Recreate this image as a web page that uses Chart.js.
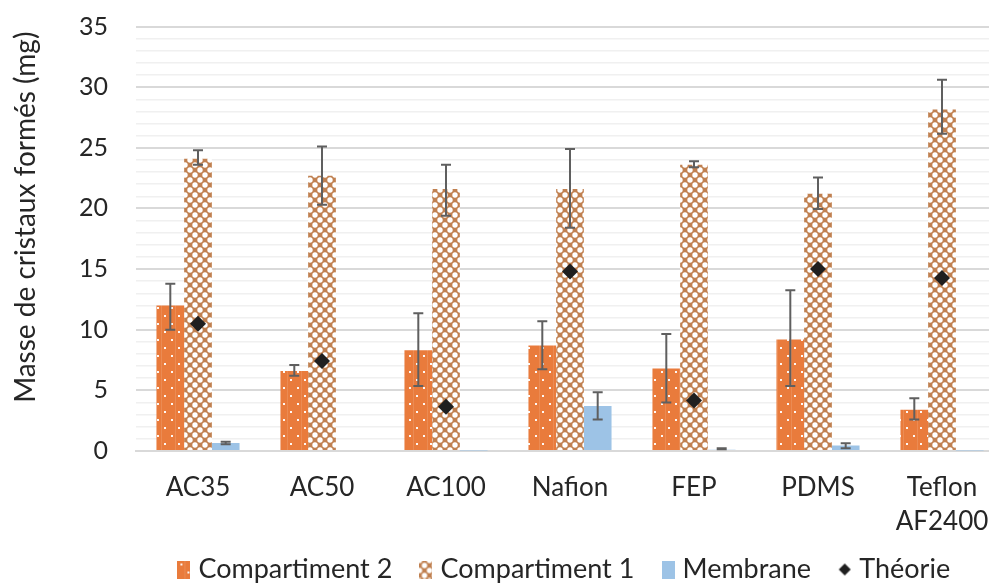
<!DOCTYPE html>
<html>
<head>
<meta charset="utf-8">
<script src="https://cdn.jsdelivr.net/npm/chart.js@4.4.1/dist/chart.umd.min.js"></script>
<style>
html,body{margin:0;padding:0;background:#fff;overflow:hidden}
#wrap{width:989px;height:585px;overflow:hidden;position:relative;background:#fff}
#c{position:absolute;left:0;top:0}
</style>
</head>
<body>
<div id="wrap"><canvas id="c" width="1012" height="585"></canvas></div>
<script>
// ---- data ----
const categories = ['AC35', 'AC50', 'AC100', 'Nafion', 'FEP', 'PDMS', ['Teflon', 'AF2400']];
const comp2      = [12.0, 6.6, 8.3, 8.7, 6.8, 9.2, 3.4];
const comp2Low   = [10.0, 6.2, 5.35, 6.75, 4.0, 5.35, 2.6];
const comp2High  = [13.8, 7.1, 11.35, 10.7, 9.65, 13.25, 4.35];
const comp1      = [24.1, 22.7, 21.6, 21.6, 23.6, 21.2, 28.15];
const comp1Low   = [23.6, 20.3, 19.4, 18.4, 23.4, 19.95, 26.15];
const comp1High  = [24.8, 25.1, 23.6, 24.9, 23.9, 22.55, 30.6];
const membrane     = [0.65, 0, 0.05, 3.7, 0.1, 0.45, 0.05];
const membraneLow  = [0.55, null, null, 2.6, 0.15, 0.22, null];
const membraneHigh = [0.77, null, null, 4.85, 0.22, 0.63, null];
const theory     = [10.5, 7.43, 3.65, 14.8, 4.17, 15.0, 14.26];
const yTicks     = [0, 5, 10, 15, 20, 25, 30, 35];
const seriesNames = ['Compartiment 2', 'Compartiment 1', 'Membrane', 'Théorie'];
const yTitle = 'Masse de cristaux formés (mg)';

// ---- patterns ----
const ORANGE = '#E97B3C', BROWN = '#C08050', BLUE = '#9DC3E6', DARK = '#1f1f1f';
function orangeTile() {
  const c = document.createElement('canvas'); c.width = 14; c.height = 16;
  const g = c.getContext('2d');
  g.fillStyle = ORANGE; g.fillRect(0, 0, 14, 16);
  g.fillStyle = 'rgba(255,255,255,0.95)';
  g.fillRect(3, 3, 2, 2); g.fillRect(10, 11, 2, 2);
  g.fillStyle = 'rgba(255,255,255,0.12)';
  g.fillRect(7, 0, 1, 16);
  return c;
}
function brownTile() {
  const c = document.createElement('canvas'); c.width = 10; c.height = 10;
  const g = c.getContext('2d');
  g.fillStyle = BROWN; g.fillRect(0, 0, 10, 10);
  g.fillStyle = '#ffffff';
  [[5, 5], [0, 0], [10, 0], [0, 10], [10, 10]].forEach(([x, y]) => {
    g.beginPath(); g.arc(x, y, 2.7, 0, Math.PI * 2); g.fill();
  });
  return c;
}
const tmp = document.createElement('canvas').getContext('2d');
const orangePattern = tmp.createPattern(orangeTile(), 'repeat');
const brownPattern = tmp.createPattern(brownTile(), 'repeat');

function swatch(fill) {
  const c = document.createElement('canvas'); c.width = 13; c.height = 18;
  const g = c.getContext('2d'); g.fillStyle = fill; g.fillRect(0, 0, 13, 18);
  return c;
}
function patternSwatch(tileFn) {
  const c = document.createElement('canvas'); c.width = 13; c.height = 18;
  const g = c.getContext('2d'); g.fillStyle = g.createPattern(tileFn(), 'repeat'); g.fillRect(0, 0, 13, 18);
  return c;
}
function diamondIcon() {
  const c = document.createElement('canvas'); c.width = 14; c.height = 14;
  const g = c.getContext('2d'); g.fillStyle = DARK;
  g.beginPath(); g.moveTo(7, 1); g.lineTo(13, 7); g.lineTo(7, 13); g.lineTo(1, 7); g.closePath(); g.fill();
  return c;
}
const icons = [patternSwatch(orangeTile), patternSwatch(brownTile), swatch(BLUE), diamondIcon()];

// ---- error bars plugin ----
const errorBars = {
  id: 'errorBars',
  afterDatasetsDraw(chart) {
    const ctx = chart.ctx, ys = chart.scales.y;
    [[0, comp2Low, comp2High], [1, comp1Low, comp1High], [2, membraneLow, membraneHigh]].forEach(([di, lo, hi]) => {
      const meta = chart.getDatasetMeta(di);
      meta.data.forEach((bar, j) => {
        if (lo[j] == null || hi[j] == null) return;
        const x = bar.x, y1 = ys.getPixelForValue(lo[j]), y2 = ys.getPixelForValue(hi[j]);
        ctx.save();
        ctx.strokeStyle = '#5f5f5f'; ctx.lineWidth = 2;
        ctx.beginPath();
        ctx.moveTo(x, y1); ctx.lineTo(x, y2);
        ctx.moveTo(x - 5, y1); ctx.lineTo(x + 5, y1);
        ctx.moveTo(x - 5, y2); ctx.lineTo(x + 5, y2);
        ctx.stroke();
        ctx.restore();
      });
    });
  }
};

const FONT = 'Lato, "Open Sans", sans-serif';
const TXT = '#262626';
Chart.defaults.font.family = FONT;
Chart.defaults.font.size = 26;
Chart.defaults.color = TXT;

new Chart(document.getElementById('c'), {
  type: 'bar',
  data: {
    labels: categories,
    datasets: [
      { label: seriesNames[0], data: comp2, backgroundColor: orangePattern, order: 1, categoryPercentage: 0.67, barPercentage: 1.0 },
      { label: seriesNames[1], data: comp1, backgroundColor: brownPattern, order: 1, categoryPercentage: 0.67, barPercentage: 1.0 },
      { label: seriesNames[2], data: membrane, backgroundColor: BLUE, order: 1, categoryPercentage: 0.67, barPercentage: 1.0 },
      { label: seriesNames[3], data: theory, type: 'line', showLine: false, pointStyle: 'rectRot', pointRadius: 8, pointHoverRadius: 8,
        backgroundColor: DARK, borderColor: DARK, pointBorderWidth: 0, order: 0 }
    ]
  },
  options: {
    responsive: false,
    animation: false,
    layout: { padding: { top: 26.5, left: 0, right: 0, bottom: -8 } },
    plugins: {
      tooltip: { enabled: false },
      legend: {
        position: 'bottom',
        fullSize: false,
        labels: {
          usePointStyle: true,
          pointStyleWidth: 2,
          boxHeight: 18,
          padding: 5,
          font: { size: 27 },
          color: TXT,
          generateLabels(chart) {
            const items = Chart.defaults.plugins.legend.labels.generateLabels(chart);
            items.sort((a, b) => a.datasetIndex - b.datasetIndex);
            items.forEach((it, i) => {
              it.pointStyle = icons[it.datasetIndex];
              it.text = it.text + (i < items.length - 1 ? '    ' : ' ');
            });
            return items;
          }
        }
      }
    },
    scales: {
      x: {
        grid: { display: false, drawTicks: false },
        border: { display: true, color: '#d9d9d9', width: 2 },
        ticks: { padding: 20, font: { size: 26, lineHeight: 1.3 }, color: TXT, maxRotation: 0, autoSkip: false },
        afterFit(s) { s.height = 100; }
      },
      y: {
        min: 0, max: 35,
        ticks: {
          stepSize: 1, autoSkip: false, padding: 0, color: TXT, font: { size: 25 },
          callback: v => (yTicks.includes(v) ? String(v) : '')
        },
        grid: {
          drawTicks: true,
          tickLength: 28,
          tickColor: 'rgba(0,0,0,0)',
          color: c => (c.tick && c.tick.value % 5 === 0 ? '#d9d9d9' : '#f0f0f0'),
          lineWidth: c => (c.tick && c.tick.value % 5 === 0 ? 2 : 1.5)
        },
        border: { display: false },
        title: { display: true, text: '      ' + yTitle, font: { size: 28 }, color: TXT, padding: { top: 9, bottom: 0 } },
        afterFit(s) { s.width = 136; }
      }
    }
  },
  plugins: [errorBars]
});
</script>
</body>
</html>
